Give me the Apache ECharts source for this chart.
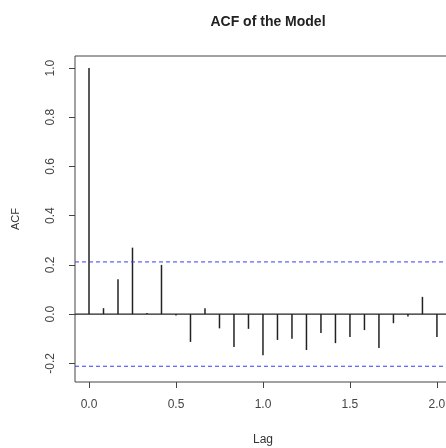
<!DOCTYPE html>
<html>
<head>
<meta charset="utf-8">
<script src="https://cdn.jsdelivr.net/npm/echarts@6/dist/echarts.min.js"></script>
<style>
  html, body { margin: 0; padding: 0; background: #fff; }
  #chart { width: 446px; height: 448px; }
</style>
</head>
<body>
<div id="chart"></div>
<script>
// lag in months (monthly series), shown on the axis in years
let lags = [0, 1, 2, 3, 4, 5, 6, 7, 8, 9, 10, 11, 12, 13, 14, 15, 16, 17, 18, 19, 20, 21, 22, 23, 24];
let acfVals = [1.0, 0.024, 0.142, 0.27, 0.004, 0.2, -0.006, -0.113, 0.024, -0.058, -0.134, -0.06, -0.167,
  -0.105, -0.1, -0.146, -0.077, -0.118, -0.093, -0.065, -0.138, -0.037, -0.01, 0.07, -0.093];
let xTicks = [0, 6, 12, 18, 24];
let yTicks = [-0.2, 0, 0.2, 0.4, 0.6, 0.8, 1.0];
let confLimit = 0.212;
let xRange = [-0.966, 24.97];
let yRange = [-0.276, 1.049];

let fontFam = '"Liberation Sans", Arial, sans-serif';
let chart = echarts.init(document.getElementById('chart'), null, { renderer: 'canvas' });

// horizontal reference line across the whole box
function hline(y, color, type, width) {
  return {
    type: 'line',
    data: [[xRange[0], y], [xRange[1], y]],
    symbol: 'none',
    silent: true,
    lineStyle: { color: color, type: type, width: width }
  };
}

let option = {
  animation: false,
  title: {
    text: 'ACF of the Model',
    left: 263,
    top: 10,
    textAlign: 'center',
    textStyle: { fontFamily: fontFam, fontSize: 14, fontWeight: 'bold', color: '#222' }
  },
  graphic: [
    { type: 'text', x: 263, y: 440, style: { text: 'Lag', font: '12px ' + fontFam, fill: '#333', textAlign: 'center', textVerticalAlign: 'middle' } },
    { type: 'text', x: 16, y: 219, rotation: Math.PI / 2, style: { text: 'ACF', font: '11px ' + fontFam, fill: '#333', textAlign: 'center', textVerticalAlign: 'middle' } }
  ],
  grid: {
    left: 75, top: 56, width: 376, height: 326,
    outerBoundsMode: 'none',
    show: true, borderColor: '#444', borderWidth: 1
  },
  xAxis: {
    type: 'value',
    min: xRange[0], max: xRange[1],
    axisLine: { show: false, onZero: false },
    splitLine: { show: false },
    axisTick: { show: true, customValues: xTicks, length: 6, lineStyle: { color: '#444' } },
    axisLabel: {
      customValues: xTicks, margin: 17,
      fontFamily: fontFam, fontSize: 12, color: '#444',
      formatter: v => (v / 12).toFixed(1)
    }
  },
  yAxis: {
    type: 'value',
    min: yRange[0], max: yRange[1],
    axisLine: { show: false, onZero: false },
    splitLine: { show: false },
    axisTick: { show: true, customValues: yTicks, length: 6, lineStyle: { color: '#444' } },
    axisLabel: {
      customValues: yTicks, rotate: 90, margin: 18,
      fontFamily: fontFam, fontSize: 12, color: '#444',
      formatter: v => v.toFixed(1)
    }
  },
  series: [
    hline(0, '#222', 'solid', 1.2),
    hline(confLimit, '#3b3bf0', [4, 3], 1),
    hline(-confLimit, '#3b3bf0', [4, 3], 1),
    {
      type: 'custom',
      data: lags.map((l, i) => [l, acfVals[i]]),
      renderItem: function (params, api) {
        let p0 = api.coord([api.value(0), 0]);
        let p1 = api.coord([api.value(0), api.value(1)]);
        return {
          type: 'line',
          shape: { x1: p0[0], y1: p0[1], x2: p1[0], y2: p1[1] },
          style: { stroke: '#222', lineWidth: 1.5 }
        };
      }
    }
  ]
};
chart.setOption(option);
</script>
</body>
</html>
